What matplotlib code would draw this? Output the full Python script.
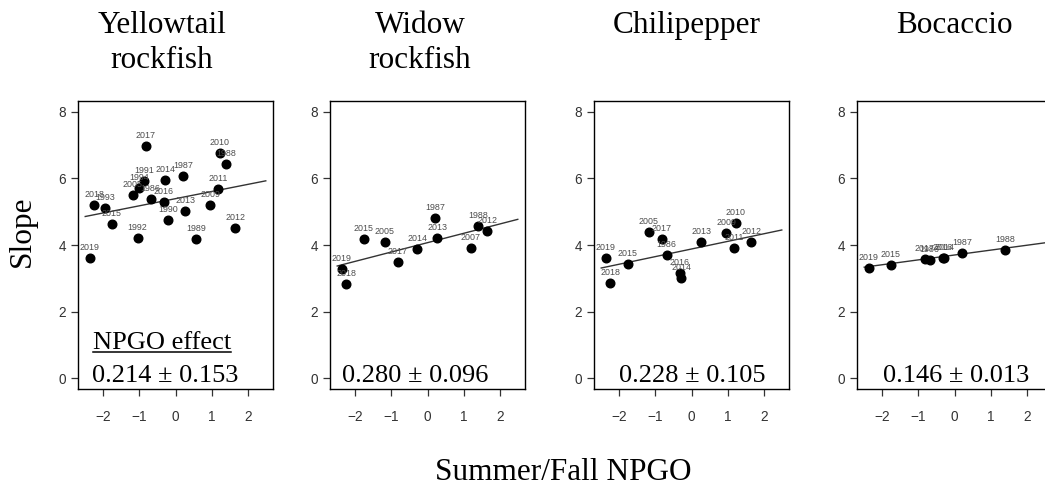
import matplotlib
matplotlib.use("Agg")
import matplotlib.pyplot as plt
from matplotlib.lines import Line2D

# NPGO index (summer/fall) by year
npgo_years = [1986, 1987, 1988, 1989, 1990, 1991, 1992, 1993, 1994, 2005, 2007,
              2009, 2010, 2011, 2012, 2013, 2014, 2015, 2016, 2017, 2018, 2019]
npgo_values = [-0.69, 0.21, 1.40, 0.58, -0.20, -0.86, -1.05, -1.96, -1.00, -1.19, 1.20,
               0.96, 1.23, 1.19, 1.65, 0.27, -0.29, -1.77, -0.32, -0.82, -2.25, -2.38]

species = ["Yellowtail\nrockfish", "Widow\nrockfish", "Chilipepper", "Bocaccio"]
effect = [0.214, 0.280, 0.228, 0.146]
effect_se = [0.153, 0.096, 0.105, 0.013]
intercepts = [5.39, 4.07, 3.88, 3.70]

yt_years = [1986, 1987, 1988, 1989, 1990, 1991, 1992, 1993, 1994, 2005, 2009,
            2010, 2011, 2012, 2013, 2014, 2015, 2016, 2017, 2018, 2019]
yt_slope = [5.38, 6.06, 6.42, 4.19, 4.75, 5.91, 4.20, 5.11, 5.70, 5.50, 5.19,
            6.76, 5.68, 4.50, 5.02, 5.94, 4.63, 5.28, 6.96, 5.20, 3.60]

wd_years = [1987, 1988, 2005, 2007, 2012, 2013, 2014, 2015, 2017, 2018, 2019]
wd_slope = [4.80, 4.56, 4.08, 3.91, 4.42, 4.22, 3.88, 4.19, 3.48, 2.84, 3.27]

cp_years = [1986, 2005, 2009, 2010, 2011, 2012, 2013, 2014, 2015, 2016, 2017, 2018, 2019]
cp_slope = [3.69, 4.39, 4.35, 4.65, 3.91, 4.10, 4.08, 3.02, 3.42, 3.16, 4.19, 2.87, 3.60]

bc_years = [1986, 1987, 1988, 2014, 2015, 2016, 2017, 2019]
bc_slope = [3.54, 3.77, 3.84, 3.60, 3.39, 3.61, 3.59, 3.32]

panel_years = [yt_years, wd_years, cp_years, bc_years]
panel_slope = [yt_slope, wd_slope, cp_slope, bc_slope]

W, H = 1045, 487
SERIF = "Liberation Serif"
SANS = "Liberation Sans"

fig = plt.figure(figsize=(W / 100, H / 100), dpi=100)

def fx(px):
    return px / W

def fy(py):
    return 1 - py / H

npgo = dict(zip(npgo_years, npgo_values))

panel_left = [78, 330, 594, 857]
title_x = [162, 420, 687, 954]
est_x = [165, 415, 692, 956]

for i in range(4):
    ax = fig.add_axes([fx(panel_left[i]), fy(389), 195 / W, 288 / H])
    xs = [npgo[y] for y in panel_years[i]]
    ys = panel_slope[i]

    # fitted line
    lx = [-2.5, 2.5]
    ly = [intercepts[i] + effect[i] * v for v in lx]
    ax.plot(lx, ly, color="#333333", lw=1.0, zorder=2)

    ax.plot(xs, ys, "o", color="black", ms=6.2, mec="black", zorder=3)
    for yr, xv, yv in zip(panel_years[i], xs, ys):
        ax.annotate(str(yr), (xv, yv), xytext=(0, 7.5), textcoords="offset points",
                    ha="center", va="center", fontsize=6.4, color="#4d4d4d",
                    family=SANS, zorder=4)

    ax.set_xlim(-2.7, 2.7)
    ax.set_ylim(-0.32, 8.32)
    ax.set_xticks([-2, -1, 0, 1, 2])
    ax.set_yticks([0, 2, 4, 6, 8])
    ax.tick_params(axis="both", length=5, width=0.9, color="#333333",
                   labelsize=9.8, labelcolor="#333333")
    ax.tick_params(axis="x", pad=10)
    ax.tick_params(axis="y", pad=3.5)
    for lab in ax.get_xticklabels() + ax.get_yticklabels():
        lab.set_family(SANS)
    for s in ax.spines.values():
        s.set_linewidth(1.0)
        s.set_color("black")

    # species title
    for k, line in enumerate(species[i].split("\n")):
        fig.text(fx(title_x[i]), fy(33 + 35 * k), line, ha="center", va="baseline",
                 fontsize=22.5, family=SERIF)

    fig.text(fx(est_x[i]), fy(382), "%.3f \u00b1 %.3f" % (effect[i], effect_se[i]),
             ha="center", va="baseline", fontsize=19, family=SERIF)

t = fig.text(fx(162), fy(349), "NPGO effect", ha="center", va="baseline",
             fontsize=19, family=SERIF)
fig.canvas.draw()
bb = t.get_window_extent()
fig.add_artist(Line2D([bb.x0 / W, bb.x1 / W], [fy(352), fy(352)],
                      color="black", lw=1.1, transform=fig.transFigure))

fig.text(fx(22), fy(231), "Slope", rotation=90, ha="center", va="center",
         fontsize=22.5, family=SERIF)
fig.text(fx(563), fy(480), "Summer/Fall NPGO", ha="center", va="baseline",
         fontsize=22.5, family=SERIF)

fig.savefig("out.png", dpi=100)
